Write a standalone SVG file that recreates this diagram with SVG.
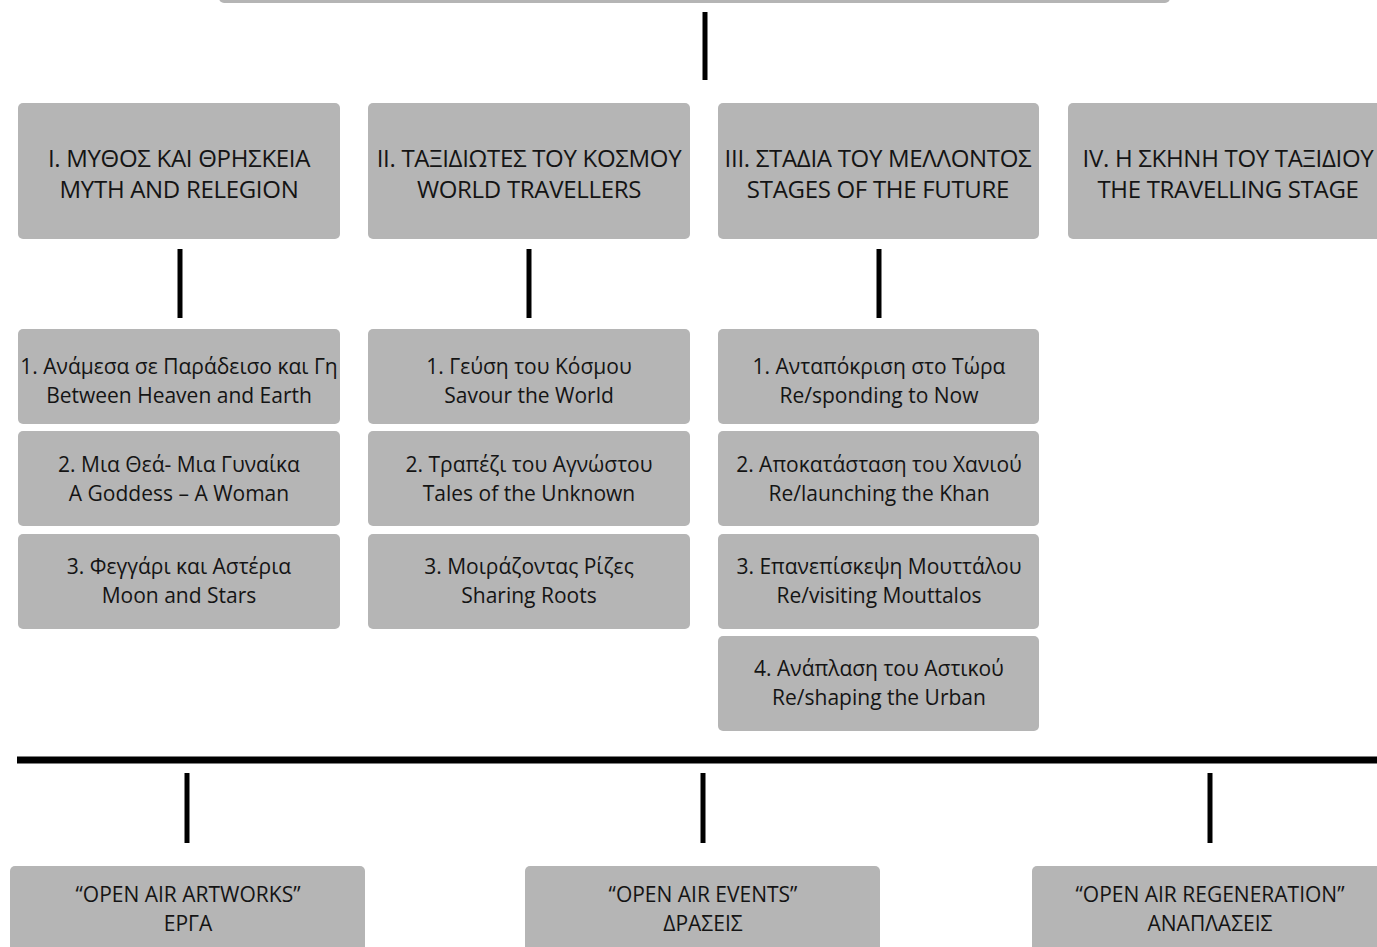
<svg xmlns="http://www.w3.org/2000/svg" width="1377" height="947" viewBox="0 0 1377 947">
<style>
.box{fill:#b5b5b5}
.h{font-family:"Open Sans","Noto Sans",sans-serif;font-size:24px;fill:#141414;text-anchor:middle;letter-spacing:-0.3px}
.s{font-family:"Open Sans","Noto Sans",sans-serif;font-size:21px;fill:#141414;text-anchor:middle}
.ln{stroke:#000;stroke-width:5;fill:none}
</style>
<rect width="1377" height="947" fill="#fff"/>
<g id="top"><rect class="box" x="219" y="-20" width="951" height="23" rx="5"/></g>
<g id="connectors">
<line class="ln" x1="705" y1="12" x2="705" y2="80"/>
<line class="ln" x1="180" y1="249" x2="180" y2="318"/>
<line class="ln" x1="529" y1="249" x2="529" y2="318"/>
<line class="ln" x1="879" y1="249" x2="879" y2="318"/>
<line stroke="#000" stroke-width="7" x1="17" y1="760" x2="1377" y2="760"/>
<line class="ln" x1="187" y1="773" x2="187" y2="843"/>
<line class="ln" x1="703" y1="773" x2="703" y2="843"/>
<line class="ln" x1="1210" y1="773" x2="1210" y2="843"/>
</g>
<g id="cat1"><rect class="box" x="18" y="103" width="322" height="136" rx="5"/><text class="h" x="179" y="167">I. ΜΥΘΟΣ ΚΑΙ ΘΡΗΣΚΕΙΑ</text><text class="h" x="179" y="198">MYTH AND RELEGION</text></g>
<g id="cat2"><rect class="box" x="368" y="103" width="322" height="136" rx="5"/><text class="h" x="529" y="167">II. ΤΑΞΙΔΙΩΤΕΣ ΤΟΥ ΚΟΣΜΟΥ</text><text class="h" x="529" y="198">WORLD TRAVELLERS</text></g>
<g id="cat3"><rect class="box" x="718" y="103" width="321" height="136" rx="5"/><text class="h" x="878" y="167">III. ΣΤΑΔΙΑ ΤΟΥ ΜΕΛΛΟΝΤΟΣ</text><text class="h" x="878" y="198">STAGES OF THE FUTURE</text></g>
<g id="cat4"><rect class="box" x="1068" y="103" width="330" height="136" rx="5"/><text class="h" x="1228" y="167">IV. Η ΣΚΗΝΗ ΤΟΥ ΤΑΞΙΔΙΟΥ</text><text class="h" x="1228" y="198">THE TRAVELLING STAGE</text></g>
<g id="s1a"><rect class="box" x="18" y="329" width="322" height="95" rx="5"/><text class="s" x="179" y="374">1. Ανάμεσα σε Παράδεισο και Γη</text><text class="s" x="179" y="403">Between Heaven and Earth</text></g>
<g id="s1b"><rect class="box" x="18" y="431" width="322" height="95" rx="5"/><text class="s" x="179" y="472">2. Μια Θεά- Μια Γυναίκα</text><text class="s" x="179" y="501">A Goddess – A Woman</text></g>
<g id="s1c"><rect class="box" x="18" y="534" width="322" height="95" rx="5"/><text class="s" x="179" y="574">3. Φεγγάρι και Αστέρια</text><text class="s" x="179" y="603">Moon and Stars</text></g>
<g id="s2a"><rect class="box" x="368" y="329" width="322" height="95" rx="5"/><text class="s" x="529" y="374">1. Γεύση του Κόσμου</text><text class="s" x="529" y="403">Savour the World</text></g>
<g id="s2b"><rect class="box" x="368" y="431" width="322" height="95" rx="5"/><text class="s" x="529" y="472">2. Τραπέζι του Αγνώστου</text><text class="s" x="529" y="501">Tales of the Unknown</text></g>
<g id="s2c"><rect class="box" x="368" y="534" width="322" height="95" rx="5"/><text class="s" x="529" y="574">3. Μοιράζοντας Ρίζες</text><text class="s" x="529" y="603">Sharing Roots</text></g>
<g id="s3a"><rect class="box" x="718" y="329" width="321" height="95" rx="5"/><text class="s" x="879" y="374">1. Ανταπόκριση στο Τώρα</text><text class="s" x="879" y="403">Re/sponding to Now</text></g>
<g id="s3b"><rect class="box" x="718" y="431" width="321" height="95" rx="5"/><text class="s" x="879" y="472">2. Αποκατάσταση του Χανιού</text><text class="s" x="879" y="501">Re/launching the Khan</text></g>
<g id="s3c"><rect class="box" x="718" y="534" width="321" height="95" rx="5"/><text class="s" x="879" y="574">3. Επανεπίσκεψη Μουττάλου</text><text class="s" x="879" y="603">Re/visiting Mouttalos</text></g>
<g id="s3d"><rect class="box" x="718" y="636" width="321" height="95" rx="5"/><text class="s" x="879" y="676">4. Ανάπλαση του Αστικού</text><text class="s" x="879" y="705">Re/shaping the Urban</text></g>
<g id="b1"><rect class="box" x="10" y="866" width="355" height="100" rx="5"/><text class="s" x="188" y="902">“OPEN AIR ARTWORKS”</text><text class="s" x="188" y="931">ΕΡΓΑ</text></g>
<g id="b2"><rect class="box" x="525" y="866" width="355" height="100" rx="5"/><text class="s" x="703" y="902">“OPEN AIR EVENTS”</text><text class="s" x="703" y="931">ΔΡΑΣΕΙΣ</text></g>
<g id="b3"><rect class="box" x="1032" y="866" width="380" height="100" rx="5"/><text class="s" x="1210" y="902">“OPEN AIR REGENERATION”</text><text class="s" x="1210" y="931">ΑΝΑΠΛΑΣΕΙΣ</text></g>
</svg>
